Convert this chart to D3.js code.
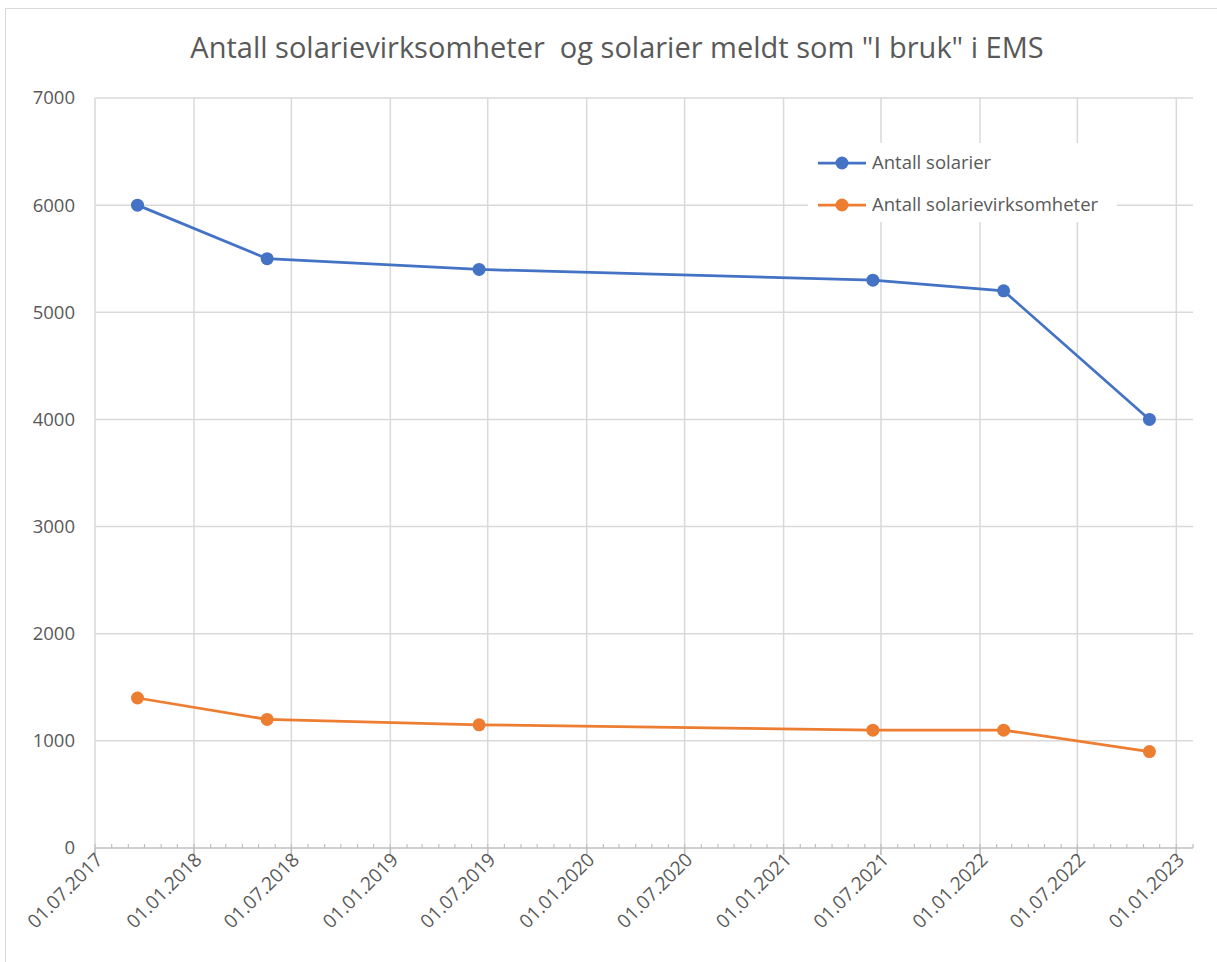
<!DOCTYPE html>
<html>
<head>
<meta charset="utf-8">
<script src="https://cdn.jsdelivr.net/npm/d3@7"></script>
<style>
  body { margin: 0; background: #fff; }
  text { fill: #595959; }
</style>
</head>
<body>
<svg id="chart" width="1217" height="962"></svg>
<script>
var width = 1217;
var height = 962;
var margin = {top: 98, right: 24, bottom: 114, left: 95};

// dates of each report
var dates = ["2017-09-18", "2018-05-17", "2019-06-15", "2021-06-16", "2022-02-14", "2022-11-12"];
var solarier = [6000, 5500, 5400, 5300, 5200, 4000];
var virksomheter = [1400, 1200, 1150, 1100, 1100, 900];
var seriesNames = ["Antall solarier", "Antall solarievirksomheter"];
var seriesColors = ["#4472C4", "#ED7D31"];
var yTicks = [0, 1000, 2000, 3000, 4000, 5000, 6000, 7000];
var xStart = "2017-07-01", xEnd = "2023-02-01";

var parse = d3.timeParse("%Y-%m-%d");
var fmt = d3.timeFormat("%d.%m.%Y");

var svg = d3.select("#chart");

// outer chart border
svg.append("rect")
    .attr("x", 5.5).attr("y", 8.5)
    .attr("width", width + 20).attr("height", height + 20)
    .attr("fill", "none").attr("stroke", "#d9d9d9");

var x = d3.scaleTime()
    .domain([parse(xStart), parse(xEnd)])
    .range([margin.left, width - margin.right]);

var y = d3.scaleLinear()
    .domain([0, 7000])
    .range([height - margin.bottom, margin.top]);

var majorTicks = d3.timeMonth.every(6).range(parse(xStart), d3.timeDay.offset(parse(xEnd), -1));
var minorTicks = d3.timeMonth.range(parse(xStart), parse(xEnd));

// horizontal gridlines
svg.append("g").selectAll("line")
    .data(yTicks.slice(1))
    .enter().append("line")
    .attr("x1", margin.left).attr("x2", width - margin.right)
    .attr("y1", function(d) { return y(d); })
    .attr("y2", function(d) { return y(d); })
    .attr("stroke", "#d9d9d9").attr("stroke-width", 1.5);

// vertical gridlines (every half year)
svg.append("g").selectAll("line")
    .data(majorTicks)
    .enter().append("line")
    .attr("x1", function(d) { return x(d); })
    .attr("x2", function(d) { return x(d); })
    .attr("y1", margin.top).attr("y2", y(0) + 7)
    .attr("stroke", "#d9d9d9").attr("stroke-width", 1.5);

// x axis line with minor monthly ticks
svg.append("line")
    .attr("x1", margin.left).attr("x2", width - margin.right)
    .attr("y1", y(0)).attr("y2", y(0))
    .attr("stroke", "#bfbfbf").attr("stroke-width", 1.5);

svg.append("g").selectAll("line")
    .data(minorTicks.concat([parse(xEnd)]))
    .enter().append("line")
    .attr("x1", function(d) { return x(d); })
    .attr("x2", function(d) { return x(d); })
    .attr("y1", y(0)).attr("y2", y(0) - 4)
    .attr("stroke", "#bfbfbf").attr("stroke-width", 1.2);

svg.append("g").selectAll("line")
    .data(majorTicks)
    .enter().append("line")
    .attr("x1", function(d) { return x(d); })
    .attr("x2", function(d) { return x(d); })
    .attr("y1", y(0)).attr("y2", y(0) + 7)
    .attr("stroke", "#bfbfbf").attr("stroke-width", 1.5);

// y tick labels
svg.append("g").selectAll("text")
    .data(yTicks)
    .enter().append("text")
    .attr("x", 75)
    .attr("y", function(d) { return y(d); })
    .attr("dy", "0.35em")
    .style("text-anchor", "end")
    .style("font-family", "'Open Sans', sans-serif")
    .style("font-size", "18.5px")
    .text(function(d) { return d; });

// x tick labels, rotated
svg.append("g").selectAll("text")
    .data(majorTicks)
    .enter().append("text")
    .attr("transform", function(d) {
        return "translate(" + (x(d) + 9) + "," + (y(0) + 13) + ") rotate(-45)";
    })
    .style("text-anchor", "end")
    .style("font-family", "'Open Sans', sans-serif")
    .style("font-size", "19px")
    .text(function(d) { return fmt(d); });

// title (keeps the double space of the original)
svg.append("text")
    .attr("x", 617).attr("y", 58)
    .style("text-anchor", "middle")
    .style("white-space", "pre")
    .style("font-family", "'Open Sans', sans-serif")
    .style("font-size", "29px")
    .text('Antall solarievirksomheter  og solarier meldt som "I bruk" i EMS');

var line = d3.line()
    .x(function(d) { return x(d.date); })
    .y(function(d) { return y(d.value); });

[solarier, virksomheter].forEach(function(vals, i) {
    var data = dates.map(function(d, j) { return {date: parse(d), value: vals[j]}; });
    svg.append("path")
        .datum(data)
        .attr("d", line)
        .attr("fill", "none")
        .attr("stroke", seriesColors[i])
        .attr("stroke-width", 2.75);
    svg.append("g").selectAll("circle")
        .data(data)
        .enter().append("circle")
        .attr("cx", function(d) { return x(d.date); })
        .attr("cy", function(d) { return y(d.value); })
        .attr("r", 6.5)
        .attr("fill", seriesColors[i]);
});

// legend
var legend = svg.append("g");
legend.append("rect")
    .attr("x", 808).attr("y", 143)
    .attr("width", 309).attr("height", 79)
    .attr("fill", "#fff");

seriesNames.forEach(function(name, i) {
    var ly = 163 + i * 42;
    legend.append("line")
        .attr("x1", 818).attr("x2", 866)
        .attr("y1", ly).attr("y2", ly)
        .attr("stroke", seriesColors[i]).attr("stroke-width", 2.75);
    legend.append("circle")
        .attr("cx", 842).attr("cy", ly).attr("r", 6.5)
        .attr("fill", seriesColors[i]);
    legend.append("text")
        .attr("x", 872).attr("y", ly)
        .attr("dy", "0.35em")
        .style("font-family", "'Open Sans', sans-serif")
        .style("font-size", "18.5px")
        .text(name);
});
</script>
</body>
</html>
